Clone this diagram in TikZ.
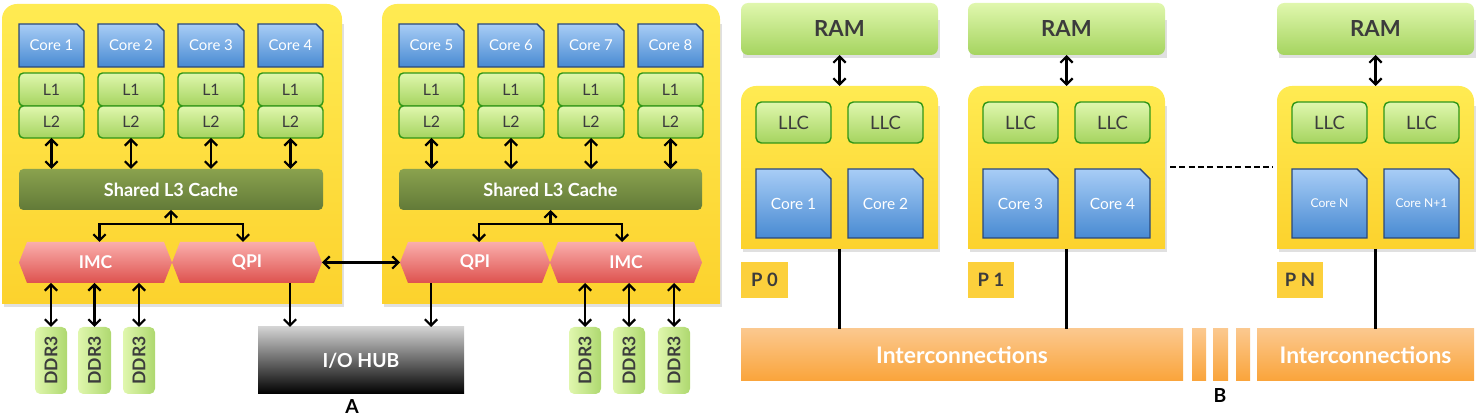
\documentclass[tikz,border=0pt]{standalone}
\usepackage{fontspec}
\setmainfont{Lato}
\usetikzlibrary{arrows.meta,calc,fit}
\definecolor{chipT}{RGB}{255,235,82}
\definecolor{chipB}{RGB}{252,210,45}
\definecolor{coreT}{RGB}{168,205,246}
\definecolor{coreB}{RGB}{72,138,210}
\definecolor{coreD}{RGB}{42,72,122}
\definecolor{grnT}{RGB}{224,247,174}
\definecolor{grnB}{RGB}{165,212,95}
\definecolor{grnD}{RGB}{48,150,22}
\definecolor{lthreeT}{RGB}{138,162,78}
\definecolor{lthreeB}{RGB}{98,122,56}
\definecolor{redT}{RGB}{250,174,172}
\definecolor{redB}{RGB}{222,82,78}
\definecolor{hubT}{RGB}{210,210,210}
\definecolor{orT}{RGB}{251,200,142}
\definecolor{orB}{RGB}{250,164,58}
\definecolor{plab}{RGB}{252,208,60}
\definecolor{txtD}{RGB}{60,60,60}
\tikzset{
 x=0.02cm, y=0.02cm,
 fitbox/.style={inner sep=0pt, outer sep=0pt},
 shadowfill/.style={fill=black, opacity=0.12},
 chipfill/.style={top color=chipT, bottom color=chipB, draw=none},
 corefill/.style={top color=coreT, bottom color=coreB, draw=coreD, line width=0.8pt},
 corea/.style={text=white, font=\fontsize{8.5}{10}\selectfont},
 coreb/.style={text=white, font=\fontsize{8.8}{10}\selectfont},
 corec/.style={text=white, font=\fontsize{6.9}{8}\selectfont},
 cachebox/.style={fitbox, top color=grnT, bottom color=grnB, draw=grnD, line width=0.8pt, rounded corners=2.5pt},
 cachetxt/.style={text=txtD, font=\fontsize{9}{10}\selectfont},
 llctxt/.style={text=txtD, font=\fontsize{10.5}{12}\selectfont},
 lthree/.style={fitbox, top color=lthreeT, bottom color=lthreeB, rounded corners=2.5pt},
 lthreetxt/.style={text=white, font=\bfseries\fontsize{10.3}{12}\selectfont},
 hexfill/.style={top color=redT, bottom color=redB},
 hextext/.style={text=white, font=\bfseries\fontsize{10}{12}\selectfont},
 ddrbox/.style={fitbox, left color=grnT, right color=grnB!90!white, rounded corners=3pt},
 ddrtext/.style={rotate=90, text=txtD, font=\bfseries\fontsize{10}{12}\selectfont},
 hubbox/.style={fitbox, top color=hubT, bottom color=black},
 hubtxt/.style={text=white, font=\bfseries\fontsize{11}{13}\selectfont},
 rambox/.style={fitbox, top color=grnT, bottom color=grnB, rounded corners=4pt},
 ramtxt/.style={text=txtD, font=\bfseries\fontsize{12.6}{14}\selectfont},
 plabbox/.style={fitbox, fill=plab},
 plabtxt/.style={text=txtD, font=\bfseries\fontsize{10.5}{12}\selectfont},
 icbox/.style={fitbox, top color=orT, bottom color=orB},
 ictxt/.style={text=white, font=\bfseries\fontsize{13}{15}\selectfont},
 sublabel/.style={text=black, font=\bfseries\fontsize{11}{13}\selectfont},
 arr/.style={line width=1.3pt, {Straight Barb[length=3.5pt,width=7pt]}-{Straight Barb[length=3.5pt,width=7pt]}},
 arrone/.style={line width=1.3pt, -{Straight Barb[length=3.5pt,width=7pt]}},
 bline/.style={line width=1.7pt},
 dline/.style={line width=1.7pt, dash pattern=on 3.5pt off 1.8pt},
}
\newcommand{\mkchip}[5]{%
 \path[shadowfill] ({#2+2},{-#5-3}) rectangle ({#4+2},{-#3-20});
 \path[chipfill] (#2,-#5) -- (#2,{-#3-15}) arc[start angle=180,end angle=90,radius=15] -- ({#4-15},-#3) arc[start angle=90,end angle=0,radius=15] -- (#4,-#5) -- cycle;
 \node[fitbox, fit={(#2,-#3) (#4,-#5)}] (#1) {};}
\newcommand{\mkcore}[8]{%
 \path[corefill] (#2,-#3) -- ({#4-#6},-#3) -- (#4,{-#3-#6}) -- (#4,-#5) -- (#2,-#5) -- cycle;
 \node[fitbox, fit={(#2,-#3) (#4,-#5)}, label={[#8]center:#7}] (#1) {};}
\newcommand{\mkhex}[6]{%
 \path[hexfill] (#2,{-(#3+#5)/2}) -- ({#2+8},-#3) -- ({#4-8},-#3) -- (#4,{-(#3+#5)/2}) -- ({#4-8},-#5) -- ({#2+8},-#5) -- cycle;
 \node[fitbox, fit={(#2,-#3) (#4,-#5)}, label={[hextext]center:#6}] (#1) {};}
\begin{document}
\begin{tikzpicture}
\useasboundingbox (0,0) rectangle (1482,-418);
% ---------- Part A ----------
\mkchip{chipL}{2}{4}{342}{304}
\mkchip{chipR}{382}{4}{720}{304}
\mkcore{ca1}{19}{24}{84}{67}{7}{Core 1}{corea}
\mkcore{ca2}{98}{24}{164}{67}{7}{Core 2}{corea}
\mkcore{ca3}{178}{24}{244}{67}{7}{Core 3}{corea}
\mkcore{ca4}{258}{24}{323}{67}{7}{Core 4}{corea}
\mkcore{ca5}{399}{24}{464}{67}{7}{Core 5}{corea}
\mkcore{ca6}{478}{24}{544}{67}{7}{Core 6}{corea}
\mkcore{ca7}{558}{24}{624}{67}{7}{Core 7}{corea}
\mkcore{ca8}{638}{24}{703}{67}{7}{Core 8}{corea}
\foreach \i/\xa/\xb in {1/19/84,2/98/164,3/178/244,4/258/323,5/399/464,6/478/544,7/558/624,8/638/703}{
 \node[cachebox, fit={(\xa,-73) (\xb,-106)}, label={[cachetxt]center:L1}] (la\i) {};
 \node[cachebox, fit={(\xa,-106) (\xb,-138)}, label={[cachetxt]center:L2}] (lb\i) {};
}
\node[lthree, fit={(19,-169) (323,-210)}, label={[lthreetxt]center:Shared L3 Cache}] (lthL) {};
\node[lthree, fit={(399,-169) (702,-210)}, label={[lthreetxt]center:Shared L3 Cache}] (lthR) {};
\foreach \i in {1,2,3,4}{\draw[arr] (lb\i.south) -- (lb\i.south |- lthL.north);}
\foreach \i in {5,6,7,8}{\draw[arr] (lb\i.south) -- (lb\i.south |- lthR.north);}
\mkhex{imcL}{19}{242}{172}{283}{IMC}
\mkhex{qpiL}{172}{242}{322}{283}{QPI}
\mkhex{qpiR}{400}{242}{550}{283}{QPI}
\mkhex{imcR}{550}{242}{702}{283}{IMC}
\coordinate (jL) at ($(lthL.south)+(0,-14)$);
\coordinate (jR) at ($(lthR.south)+(0,-14)$);
\draw[arrone] (jL) -- (lthL.south);
\draw[arrone] (jR) -- (lthR.south);
\draw[arr] ($(imcL.north)+(4,0)$) |- (jL) -| ($(qpiL.north)+(-4,0)$);
\draw[arr] ($(qpiR.north)+(4,0)$) |- (jR) -| ($(imcR.north)+(-4,0)$);
\draw[arr] (qpiL.east) -- (qpiR.west);
% DDR3
\foreach \n/\xa/\xb in {d1/35/67,d2/78/111,d3/123/155}{
 \node[ddrbox, fit={(\xa,-327) (\xb,-394)}, label={[ddrtext]center:DDR3}] (\n) {};
 \draw[arr] (\n.north |- imcL.south) -- (\n.north);
}
\foreach \n/\xa/\xb in {d4/569/601,d5/613/645,d6/658/690}{
 \node[ddrbox, fit={(\xa,-327) (\xb,-394)}, label={[ddrtext]center:DDR3}] (\n) {};
 \draw[arr] (\n.north |- imcR.south) -- (\n.north);
}
\node[hubbox, fit={(258,-327) (464,-394)}, label={[hubtxt]center:I/O HUB}] (hub) {};
\coordinate (qa) at ($(qpiL.south)+(43,0)$);
\coordinate (qb) at ($(qpiR.south)+(-44,0)$);
\draw[arrone] (qa) -- (qa |- hub.north);
\draw[arrone] (qb) -- (qb |- hub.north);
\node[sublabel] (labA) at (352,-407) {A};
% ---------- Part B ----------
\foreach \n/\xa in {0/741,1/968,N/1277}{
 \path[shadowfill] ({\xa+2},-58) rectangle ({\xa+199},-20);
 \node[rambox, fit={(\xa,-3) ({\xa+197},-55)}, label={[ramtxt]center:RAM}] (ram\n) {};
 \mkchip{pc\n}{\xa}{86}{\xa+197}{249}
 \node[cachebox, rounded corners=3pt, fit={({\xa+15},-102) ({\xa+90},-143)}, label={[llctxt]center:LLC}] (llca\n) {};
 \node[cachebox, rounded corners=3pt, fit={({\xa+107},-102) ({\xa+182},-143)}, label={[llctxt]center:LLC}] (llcb\n) {};
 \draw[arr] (ram\n.south) -- (pc\n.north);
}
\mkcore{cb1}{756}{169}{831}{238}{10}{Core 1}{coreb}
\mkcore{cb2}{848}{169}{923}{238}{10}{Core 2}{coreb}
\mkcore{cb3}{983}{169}{1058}{238}{10}{Core 3}{coreb}
\mkcore{cb4}{1075}{169}{1150}{238}{10}{Core 4}{coreb}
\mkcore{cb5}{1292}{169}{1367}{238}{10}{Core N}{corec}
\mkcore{cb6}{1384}{169}{1459}{238}{10}{Core N+1}{corec}
\node[plabbox, fit={(741,-262) (788,-298)}, label={[plabtxt]center:P 0}] (p0) {};
\node[plabbox, fit={(968,-262) (1014,-298)}, label={[plabtxt]center:P 1}] (p1) {};
\node[plabbox, fit={(1277,-262) (1323,-298)}, label={[plabtxt]center:P N}] (pN) {};
\node[icbox, fit={(741,-329) (1183,-381)}, label={[ictxt]center:Interconnections}] (icA) {};
\node[icbox, fit={(1192,-329) (1206,-381)}] (icx) {};
\node[icbox, fit={(1213,-329) (1228,-381)}] (icy) {};
\node[icbox, fit={(1236,-329) (1250,-381)}] (icz) {};
\node[icbox, fit={(1257,-329) (1474,-381)}, label={[ictxt]center:Interconnections}] (icB) {};
\draw[bline] (pc0.south) -- (pc0.south |- icA.north);
\draw[bline] (pc1.south) -- (pc1.south |- icA.north);
\draw[bline] (pcN.south) -- (pcN.south |- icB.north);
\coordinate (dA) at (1170,-167);
\coordinate (dB) at (1273,-167);
\draw[dline] (dA) -- (dB);
\node[sublabel] (labB) at (1220,-396) {B};
\end{tikzpicture}
\end{document}
